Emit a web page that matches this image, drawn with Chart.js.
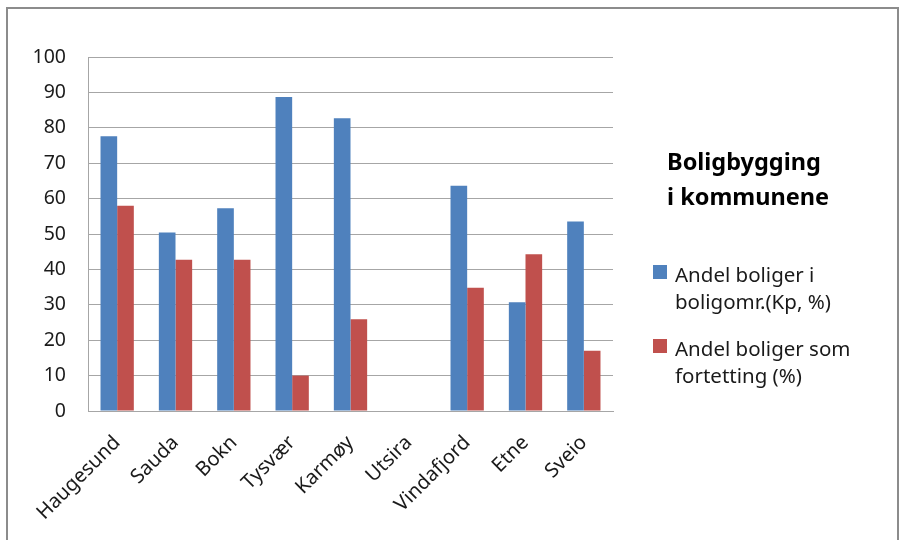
<!DOCTYPE html>
<html lang="no">

<head>
    <meta charset="UTF-8">
    <title>Boligbygging i kommunene</title>
    <script src="https://cdn.jsdelivr.net/npm/chart.js@4.4.0/dist/chart.umd.min.js"></script>
    <style>
        body { margin: 0; background: #fff; }
        #wrap { width: 907px; height: 540px; }
    </style>
</head>

<body>
    <div id="wrap"><canvas id="myChart" width="907" height="540"></canvas></div>
    <script>
        // kommuner og verdier (prosent)
        var kommuner = ['Haugesund', 'Sauda', 'Bokn', 'Tysvær', 'Karmøy', 'Utsira', 'Vindafjord', 'Etne', 'Sveio'];
        var andelBoligomr = [77.6, 50.4, 57.3, 88.7, 82.7, 0, 63.6, 30.7, 53.5];
        var andelFortetting = [58.0, 42.7, 42.7, 10.0, 25.9, 0, 34.8, 44.3, 17.0];
        var yTicks = [0, 10, 20, 30, 40, 50, 60, 70, 80, 90, 100];

        var tittel = ['Boligbygging', 'i kommunene'];
        var serieNavn = [['Andel boliger i', 'boligomr.(Kp, %)'], ['Andel boliger som', 'fortetting (%)']];
        var farger = ['#4f81bd', '#c0504d'];

        var font = '"Noto Sans", "Open Sans", sans-serif';

        // ramme rundt hele diagrammet + tittel og forklaring til høyre
        var sidePanel = {
            id: 'sidePanel',
            beforeDraw: function (chart) {
                var c = chart.ctx;
                c.save();
                c.fillStyle = '#fff';
                c.fillRect(0, 0, chart.width, chart.height);
                c.strokeStyle = '#8c8c8c';
                c.lineWidth = 2;
                c.strokeRect(7, 8, 891, 540);
                c.restore();
            },
            afterDraw: function (chart) {
                var c = chart.ctx;
                c.save();
                c.fillStyle = '#000';
                c.textBaseline = 'alphabetic';
                c.textAlign = 'left';
                c.font = 'bold 23.5px ' + font;
                c.fillText(tittel[0], 667, 170);
                c.fillText(tittel[1], 667, 205);

                c.font = '20.5px ' + font;
                var boxY = [265, 339];
                chart.data.datasets.forEach(function (ds, i) {
                    c.fillStyle = ds.backgroundColor;
                    c.fillRect(653, boxY[i], 14, 14);
                    c.fillStyle = '#1a1a1a';
                    serieNavn[i].forEach(function (linje, j) {
                        c.fillText(linje, 675, boxY[i] + 17 + j * 27);
                    });
                });
                c.restore();
            }
        };

        var ctx = document.getElementById('myChart');
        var myChart = new Chart(ctx, {
            type: 'bar',
            data: {
                labels: kommuner,
                datasets: [{
                        label: serieNavn[0].join(' '),
                        data: andelBoligomr,
                        backgroundColor: farger[0],
                        categoryPercentage: 0.571,
                        barPercentage: 1
                    },
                    {
                        label: serieNavn[1].join(' '),
                        data: andelFortetting,
                        backgroundColor: farger[1],
                        categoryPercentage: 0.571,
                        barPercentage: 1
                    }
                ]
            },
            options: {
                responsive: false,
                animation: false,
                layout: {
                    padding: { left: 20, top: 57, right: 294, bottom: 0 }
                },
                plugins: {
                    legend: { display: false },
                    tooltip: { enabled: false }
                },
                scales: {
                    x: {
                        grid: { display: false, drawTicks: false },
                        border: { color: '#a6a6a6', width: 1 },
                        ticks: {
                            autoSkip: false,
                            maxRotation: 45,
                            minRotation: 45,
                            padding: 20,
                            color: '#1a1a1a',
                            font: { family: font, size: 20 }
                        },
                        afterFit: function (scale) { scale.height = 129; }
                    },
                    y: {
                        min: 0,
                        max: 100,
                        afterBuildTicks: function (scale) {
                            scale.ticks = yTicks.map(function (v) { return { value: v }; });
                        },
                        grid: { color: '#a6a6a6', drawTicks: false },
                        border: { color: '#a6a6a6', width: 1 },
                        ticks: {
                            padding: 22,
                            color: '#1a1a1a',
                            font: { family: font, size: 19.5 }
                        },
                        afterFit: function (scale) { scale.width = 68; }
                    }
                }
            },
            plugins: [sidePanel]
        });
    </script>
</body>

</html>
